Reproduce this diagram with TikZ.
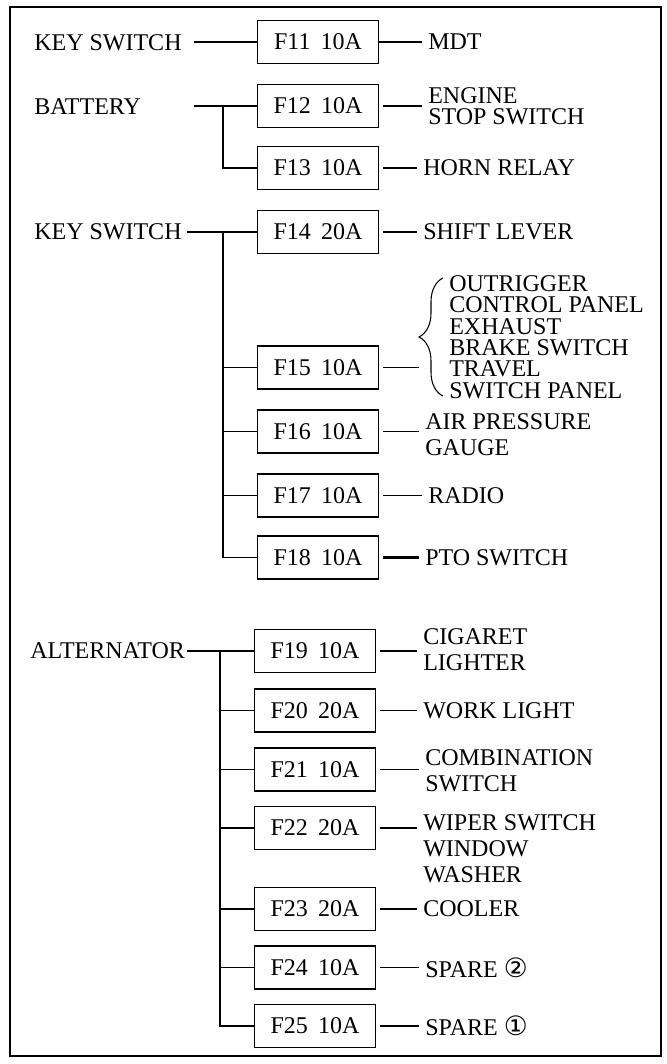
\documentclass[tikz,border=0pt]{standalone}
\usepackage{fontspec}
\setmainfont{Liberation Serif}
\newfontfamily\circfont{DejaVu Sans}
\usetikzlibrary{decorations.pathreplacing}
\newcommand{\fuselabel}[2]{#1\hspace{0.42em}#2}
\newcommand{\circnum}[1]{{\circfont\fontsize{20}{20}\selectfont #1}}
\tikzset{
  fuse/.style={draw, line width=1.1pt, minimum width=90.75pt, minimum height=32.25pt, inner sep=0pt},
  src/.style={anchor=west, inner sep=0pt},
  load/.style={anchor=west, inner xsep=4.5pt, inner ysep=0pt, align=left},
  wire/.style={line width=1.1pt},
}
\begin{document}
\begin{tikzpicture}[x=0.75pt,y=0.75pt,yscale=-1,xscale=1,font=\fontsize{18}{19.5}\selectfont]
\useasboundingbox (0,0) rectangle (667,1064);
%Shape: Frame
\draw [line width=1.1pt] (10,7) rectangle (661,1056);
%Sources
\node [src] (ks1) at (34,43) {KEY SWITCH};
\node [src] (bat) at (34,107) {BATTERY};
\node [src] (ks2) at (34,232) {KEY SWITCH};
\node [src] (alt) at (30,651) {ALTERNATOR};
\coordinate (ks1o) at (194,42);
\coordinate (bato) at (194,106);
\coordinate (bj) at (223,106);
\coordinate (ks2o) at (187,232);
\coordinate (kj) at (223,232);
\coordinate (alto) at (187,651);
\coordinate (aj) at (220,651);
%Fuses
\node [fuse] (f11) at (318,42) {\fuselabel{F11}{10A}};
\node [fuse] (f12) at (318,106) {\fuselabel{F12}{10A}};
\node [fuse] (f13) at (318,168) {\fuselabel{F13}{10A}};
\node [fuse] (f14) at (318,232) {\fuselabel{F14}{20A}};
\node [fuse] (f15) at (318,367.5) {\fuselabel{F15}{10A}};
\node [fuse] (f16) at (318,431.5) {\fuselabel{F16}{10A}};
\node [fuse] (f17) at (318,495.5) {\fuselabel{F17}{10A}};
\node [fuse] (f18) at (318,557.5) {\fuselabel{F18}{10A}};
\node [fuse] (f19) at (315,651) {\fuselabel{F19}{10A}};
\node [fuse] (f20) at (315,710.5) {\fuselabel{F20}{20A}};
\node [fuse] (f21) at (315,769.5) {\fuselabel{F21}{10A}};
\node [fuse] (f22) at (315,828) {\fuselabel{F22}{20A}};
\node [fuse] (f23) at (315,909) {\fuselabel{F23}{20A}};
\node [fuse] (f24) at (315,967.5) {\fuselabel{F24}{10A}};
\node [fuse] (f25) at (315,1026) {\fuselabel{F25}{10A}};
%Loads
\node [load] (mdt) at (422,42) {MDT};
\node [load, font=\fontsize{18}{16}\selectfont] (eng) at (422,106) {ENGINE\\STOP SWITCH};
\node [load] (horn) at (417,168) {HORN RELAY};
\node [load] (shift) at (417,232) {SHIFT LEVER};
\node [load, font=\fontsize{18}{16}\selectfont] (outrig) at (443,337) {OUTRIGGER\\CONTROL PANEL\\EXHAUST\\BRAKE SWITCH\\TRAVEL\\SWITCH PANEL};
\node [load] (air) at (419,435) {AIR PRESSURE\\GAUGE};
\node [load] (radio) at (422,495.5) {RADIO};
\node [load] (pto) at (419,557.5) {PTO SWITCH};
\node [load] (cig) at (417,650) {CIGARET\\LIGHTER};
\node [load] (work) at (417,710.5) {WORK LIGHT};
\node [load] (comb) at (419,771) {COMBINATION\\SWITCH};
\node [load] (wiper) at (417,848.5) {WIPER SWITCH\\WINDOW\\WASHER};
\node [load] (cooler) at (417,909) {COOLER};
\node [load] (spare2) at (419,968) {SPARE \circnum{②}};
\node [load] (spare1) at (419,1026) {SPARE \circnum{①}};
%Brace
\draw [decorate, decoration={brace, amplitude=18pt}, line width=0.8pt] ([yshift=-2pt]outrig.south west) -- ([yshift=2pt]outrig.north west);
\coordinate (bracetip) at ([xshift=-18pt]outrig.west);
%Straight Lines (feeds)
\draw [wire] (ks1o) -- (f11);
\draw [wire] (bato) -- (f12);
\draw [wire] (bj) |- (f13);
\draw [wire] (ks2o) -- (f14);
\foreach \f in {f15,f16,f17,f18}
  \draw [wire] (kj) |- (\f);
\draw [wire] (alto) -- (f19);
\foreach \f in {f20,f21,f22,f23,f24,f25}
  \draw [wire] (aj) |- (\f);
%Straight Lines (outputs)
\draw [wire] (f11.east) -- (f11 -| mdt.west);
\foreach \f/\l in {f12/eng,f13/horn,f14/shift,f16/air,f17/radio,f19/cig,f20/work,f21/comb,f22/wiper,f23/cooler,f24/spare2,f25/spare1}
  \draw [wire] ([xshift=3pt]\f.east) -- (\f -| \l.west);
\draw [wire, line width=1.6pt] ([xshift=3pt]f18.east) -- (f18 -| pto.west);
\draw [wire] ([xshift=3pt]f15.east) -- (f15 -| bracetip);
\end{tikzpicture}
\end{document}
